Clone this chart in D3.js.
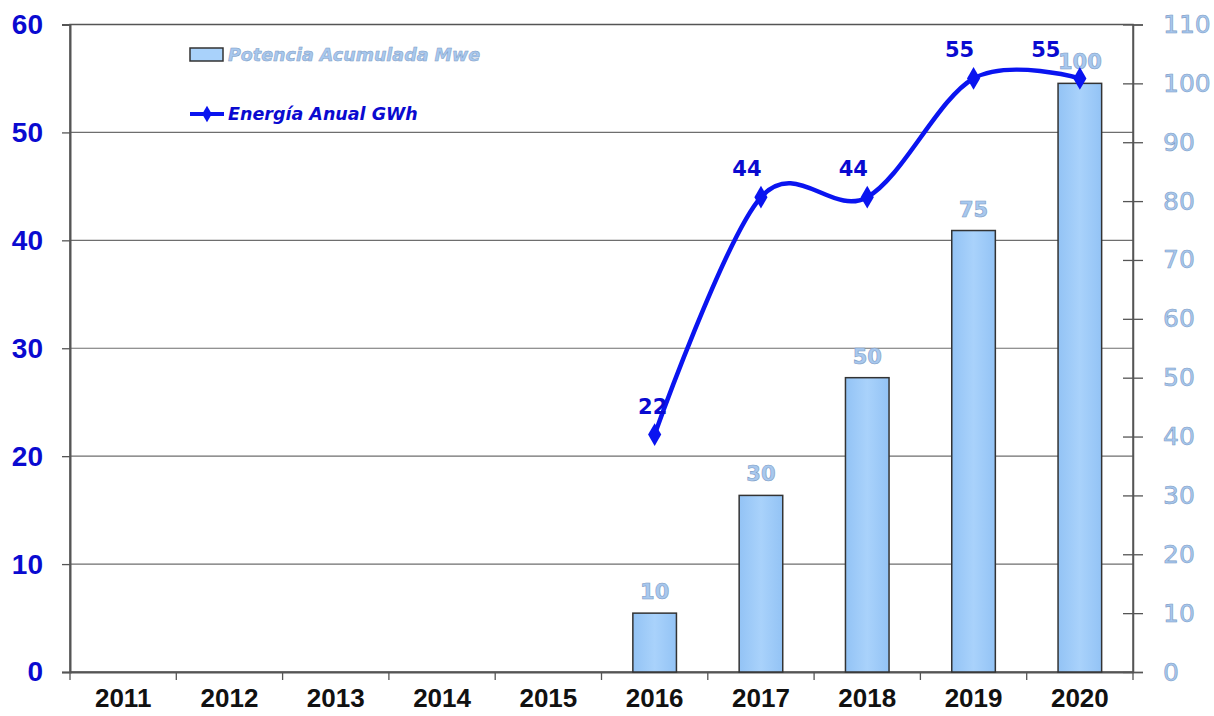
<!DOCTYPE html>
<html><head><meta charset="utf-8">
<script src="https://cdn.jsdelivr.net/npm/d3@7"></script>
<style>body{margin:0;background:#fff}svg{display:block}</style>
</head><body>
<svg id="c" width="1214" height="716"></svg>
<script>
const years = ["2011","2012","2013","2014","2015","2016","2017","2018","2019","2020"];
const potencia = [null,null,null,null,null,10,30,50,75,100];   // right axis, bars
const energia  = [null,null,null,null,null,22,44,44,55,55];    // left axis, line
const leftTicks = [0,10,20,30,40,50,60];
const rightTicks = [0,10,20,30,40,50,60,70,80,90,100,110];
const seriesNames = ["Potencia Acumulada Mwe","Energía Anual GWh"];

const svg = d3.select("#c");
const L = 70, R = 1133, T = 24.5, B = 672;
const x = d3.scaleBand().domain(years).range([L, R]).paddingInner(0).paddingOuter(0);
const yL = d3.scaleLinear().domain([0, 60]).range([B, T]);
const yR = d3.scaleLinear().domain([0, 110]).range([B, T]);
const font = "'DejaVu Sans', Verdana, sans-serif";
const font2 = "'Liberation Sans', Arial, sans-serif";

const defs = svg.append("defs");
const g = defs.append("linearGradient").attr("id","bg").attr("x1","0").attr("x2","1").attr("y1","0").attr("y2","0");
g.append("stop").attr("offset","0").attr("stop-color","#93c3f5");
g.append("stop").attr("offset","0.5").attr("stop-color","#a9d2fb");
g.append("stop").attr("offset","1").attr("stop-color","#93c3f5");

// gridlines
svg.append("g").selectAll("line").data(leftTicks.filter(d => d > 0 && d < 60)).join("line")
  .attr("x1", L).attr("x2", R).attr("y1", d => yL(d)).attr("y2", d => yL(d))
  .attr("stroke", "#6e6e6e").attr("stroke-width", 1.2);
// frame
svg.append("rect").attr("x", L).attr("y", T).attr("width", R - L).attr("height", B - T)
  .attr("fill", "none").attr("stroke", "#555").attr("stroke-width", 1.5);

// left axis
const la = svg.append("g").attr("transform", `translate(${L},0)`)
  .call(d3.axisLeft(yL).tickValues(leftTicks).tickSize(8).tickPadding(19));
la.select(".domain").attr("stroke", "#555").attr("stroke-width", 2);
la.selectAll(".tick line").attr("stroke", "#555").attr("stroke-width", 1.3);
la.selectAll("text").attr("fill", "#0a0ad0").attr("font-family", font2).attr("font-weight", "bold")
  .attr("font-size", 28);

// right axis
const ra = svg.append("g").attr("transform", `translate(${R},0)`)
  .call(d3.axisRight(yR).tickValues(rightTicks).tickSize(10).tickPadding(20));
ra.select(".domain").attr("stroke", "#555").attr("stroke-width", 1.5);
ra.selectAll(".tick line").attr("x1", -10).attr("stroke", "#555").attr("stroke-width", 1.3);
ra.selectAll("text").attr("fill", "#a8c8ee").attr("stroke", "#7d9bc4").attr("stroke-width", 0.6)
  .attr("font-family", font).attr("font-size", 25);

// bottom axis
const ba = svg.append("g").attr("transform", `translate(0,${B})`)
  .call(d3.axisBottom(x).tickSize(0).tickPadding(17));
ba.select(".domain").attr("stroke", "#555").attr("stroke-width", 2);
ba.selectAll("text").attr("fill", "#111").attr("font-family", font2).attr("font-weight", "bold")
  .attr("font-size", 26);
// boundary ticks on x axis
svg.append("g").selectAll("line").data(years).join("line")
  .attr("x1", d => x(d)).attr("x2", d => x(d)).attr("y1", B).attr("y2", B + 8)
  .attr("stroke", "#555").attr("stroke-width", 1.3);
svg.append("line").attr("x1", R).attr("x2", R).attr("y1", B).attr("y2", B + 8)
  .attr("stroke", "#555").attr("stroke-width", 1.3);

// bars
const barData = years.map((y, i) => ({y, v: potencia[i]})).filter(d => d.v != null);
const bw = x.bandwidth() * 0.41;
svg.append("g").selectAll("rect").data(barData).join("rect")
  .attr("x", d => x(d.y) + x.bandwidth() / 2 - bw / 2).attr("width", bw)
  .attr("y", d => yR(d.v)).attr("height", d => yR(0) - yR(d.v))
  .attr("fill", "url(#bg)").attr("stroke", "#333").attr("stroke-width", 1.5);
svg.append("g").selectAll("text").data(barData).join("text")
  .attr("x", d => x(d.y) + x.bandwidth() / 2).attr("y", d => yR(d.v) - 14)
  .attr("text-anchor", "middle").attr("font-family", font).attr("font-weight", "bold")
  .attr("font-size", 21).attr("fill", "#a8c8ee").attr("stroke", "#7d9bc4").attr("stroke-width", 0.6)
  .text(d => d.v);

// line
const lineData = years.map((y, i) => ({y, v: energia[i]})).filter(d => d.v != null);
const cx = d => x(d.y) + x.bandwidth() / 2;
const line = d3.line().x(cx).y(d => yL(d.v)).curve(d3.curveCatmullRom.alpha(0));
svg.append("path").datum(lineData).attr("d", line).attr("fill", "none")
  .attr("stroke", "#0a14f0").attr("stroke-width", 4.5);
const diamond = d3.symbol().type(d3.symbolDiamond).size(150);
svg.append("g").selectAll("path").data(lineData).join("path")
  .attr("transform", d => `translate(${cx(d)},${yL(d.v)})`)
  .attr("d", diamond).attr("fill", "#0a14f0");
// labels sit above-left; first one clears the steep segment less, last one shifts to clear the bar label
const n = lineData.length;
const ldx = (d, i) => i === 0 ? -2 : (i === n - 1 ? -34 : -14);
svg.append("g").selectAll("text").data(lineData).join("text")
  .attr("x", (d, i) => cx(d) + ldx(d, i)).attr("y", d => yL(d.v) - 21)
  .attr("text-anchor", "middle").attr("font-family", font).attr("font-weight", "bold")
  .attr("font-size", 21).attr("fill", "#0a0ad0").text(d => d.v);

// legend
const lg = svg.append("g");
lg.append("rect").attr("x", 190).attr("y", 48).attr("width", 33).attr("height", 13)
  .attr("fill", "#a9d2fb").attr("stroke", "#333").attr("stroke-width", 1.5);
lg.append("text").attr("x", 228).attr("y", 61).text(seriesNames[0])
  .attr("font-family", font).attr("font-weight", "bold").attr("font-style", "italic")
  .attr("font-size", 17.5).attr("fill", "#a8c8ee").attr("stroke", "#7d9bc4").attr("stroke-width", 0.5);
lg.append("line").attr("x1", 190).attr("x2", 224).attr("y1", 114).attr("y2", 114)
  .attr("stroke", "#0a14f0").attr("stroke-width", 4);
lg.append("path").attr("transform", "translate(207,114)").attr("d", d3.symbol().type(d3.symbolDiamond).size(80))
  .attr("fill", "#0a14f0");
lg.append("text").attr("x", 228).attr("y", 120).text(seriesNames[1])
  .attr("font-family", font).attr("font-weight", "bold").attr("font-style", "italic")
  .attr("font-size", 17.5).attr("fill", "#0a0ad0");
</script>
</body></html>
